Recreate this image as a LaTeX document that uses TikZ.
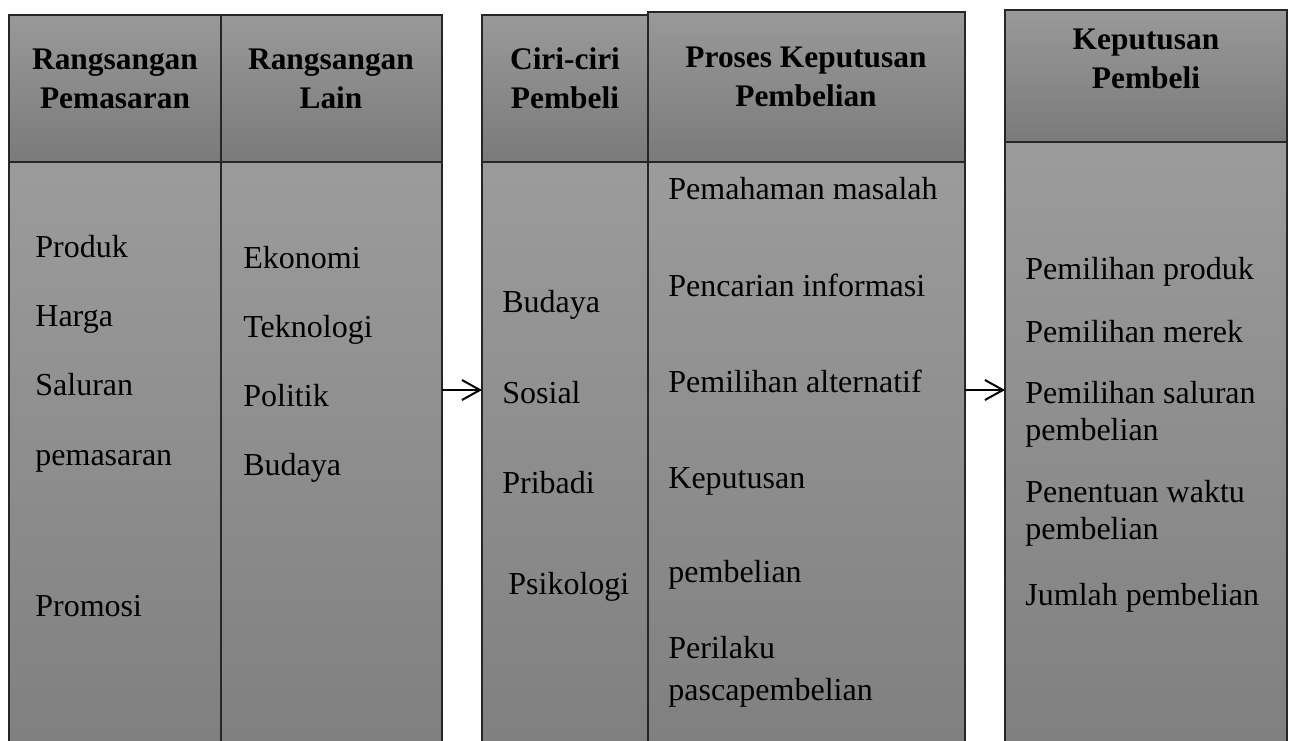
\documentclass[tikz,border=0pt]{standalone}
\usepackage{fontspec}
\setmainfont{Liberation Serif}
\usetikzlibrary{arrows.meta}
\begin{document}
\begin{tikzpicture}[x=0.5pt,y=-0.5pt,
  hdtext/.style={font=\fontsize{15.7}{19.5}\selectfont\bfseries,align=center,anchor=base},
  item/.style={font=\fontsize{16}{19}\selectfont,anchor=base west,inner sep=0pt},
  flow/.style={-{Straight Barb[length=9pt,width=10pt,line width=1pt]},line width=1pt}
]
\useasboundingbox (0,0) rectangle (1291,740);
\clip (0,0) rectangle (1291,740);

\definecolor{hdtop}{gray}{0.60}
\definecolor{hdbot}{gray}{0.48}
\definecolor{bdtop}{gray}{0.61}
\definecolor{bdbot}{gray}{0.50}
\tikzset{
  headfill/.style={top color=hdtop,bottom color=hdbot,draw=black!85,line width=0.8pt},
  bodyfill/.style={top color=bdtop,bottom color=bdbot,draw=black!85,line width=0.8pt}
}

% ---- group 1: stimuli ----
\shade[headfill] (9,15) rectangle (221,162);
\shade[headfill] (221,15) rectangle (442,162);
\shade[bodyfill] (9,162) rectangle (221,750);
\shade[bodyfill] (221,162) rectangle (442,750);
\draw[black!85,line width=0.8pt] (9,15) rectangle (442,750) (221,15) -- (221,750) (9,162) -- (442,162);

% ---- group 2: buyer black box ----
\shade[headfill] (482,15) rectangle (648,162);
\shade[headfill] (648,12) rectangle (965,162);
\shade[bodyfill] (482,162) rectangle (648,750);
\shade[bodyfill] (648,162) rectangle (965,750);
\draw[black!85,line width=0.8pt] (482,15) -- (648,15) (648,12) -- (965,12) -- (965,750)
  (482,15) -- (482,750) (648,12) -- (648,750) (482,162) -- (965,162);

% ---- group 3: buyer decisions ----
\shade[headfill] (1005,10) rectangle (1287,142);
\shade[bodyfill] (1005,142) rectangle (1287,750);
\draw[black!85,line width=0.8pt] (1005,750) -- (1005,10) -- (1287,10) -- (1287,750) (1005,142) -- (1287,142);

% connector anchors
\coordinate (g1e) at (442,390);
\coordinate (g2w) at (482,390);
\coordinate (g2e) at (965,390);
\coordinate (g3w) at (1005,390);
\draw[flow] (g1e) -- (g2w);
\draw[flow] (g2e) -- (g3w);

% headers (anchored on the baseline of the last line)
\node[hdtext] (h1) at (115,108) {Rangsangan\\Pemasaran};
\node[hdtext] (h2) at (331,108) {Rangsangan\\Lain};
\node[hdtext] (h3) at (565,108) {Ciri-ciri\\Pembeli};
\node[hdtext] (h4) at (806,106) {Proses Keputusan\\Pembelian};
\node[hdtext] (h5) at (1146,88) {Keputusan\\Pembeli};

% column 1
\node[item] (p1) at (35,257) {Produk};
\node[item] (p2) at (35,326) {Harga};
\node[item] (p3) at (35,395) {Saluran};
\node[item] (p4) at (35,465) {pemasaran};
\node[item] (p5) at (35,616) {Promosi};

% column 2
\node[item] (l1) at (243,268) {Ekonomi};
\node[item] (l2) at (243,337) {Teknologi};
\node[item] (l3) at (243,406) {Politik};
\node[item] (l4) at (243,475) {Budaya};

% column 3
\node[item] (c1) at (502,312) {Budaya};
\node[item] (c2) at (502,403) {Sosial};
\node[item] (c3) at (502,493) {Pribadi};
\node[item] (c4) at (508,594) {Psikologi};

% column 4
\node[item] (k1) at (668,199) {Pemahaman masalah};
\node[item] (k2) at (668,296) {Pencarian informasi};
\node[item] (k3) at (668,392) {Pemilihan alternatif};
\node[item] (k4) at (668,488) {Keputusan};
\node[item] (k5) at (668,582) {pembelian};
\node[item] (k6) at (668,658) {Perilaku};
\node[item] (k7) at (668,700) {pascapembelian};

% column 5
\node[item] (d1) at (1025,279) {Pemilihan produk};
\node[item] (d2) at (1025,342) {Pemilihan merek};
\node[item] (d3) at (1025,403) {Pemilihan saluran};
\node[item] (d4) at (1025,440) {pembelian};
\node[item] (d5) at (1025,502) {Penentuan waktu};
\node[item] (d6) at (1025,539) {pembelian};
\node[item] (d7) at (1025,605) {Jumlah pembelian};
\end{tikzpicture}
\end{document}
